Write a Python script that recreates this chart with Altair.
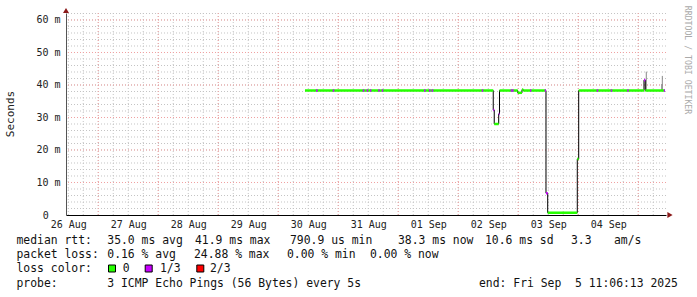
import altair as alt
import pandas as pd

# ---------------- data ----------------
# median rtt (ms) as a step function: start of each step, value, loss bucket
seg_start = ["2025-08-30T10:42:00", "2025-09-02T14:00:00", "2025-09-02T14:24:00", "2025-09-02T16:11:00",
             "2025-09-02T16:30:00", "2025-09-02T23:48:00", "2025-09-03T01:30:00", "2025-09-03T02:00:00",
             "2025-09-03T11:06:00", "2025-09-03T11:47:00", "2025-09-03T23:37:00", "2025-09-04T00:11:00",
             "2025-09-05T02:18:00", "2025-09-05T02:49:00"]
seg_value = [38.3, 32.3, 28.0, 31.1, 38.3, 37.6, 38.6, 38.3, 6.7, 0.7, 17.2, 38.3, 41.5, 38.3]
seg_loss = ["0", "1/3", "0", "1/3", "0", "0", "0", "0", "1/3", "0", "0", "0", "1/3", "0"]
line_end = "2025-09-05T10:42:00"

# short periods with 1/3 packet loss on the flat part
spot_start = ["2025-08-30T15:06:00", "2025-08-30T21:48:00", "2025-08-31T09:48:00", "2025-08-31T11:24:00",
              "2025-08-31T12:42:00", "2025-08-31T16:00:00", "2025-08-31T17:24:00", "2025-09-01T10:18:00",
              "2025-09-01T12:18:00", "2025-09-01T13:24:00", "2025-09-02T09:24:00", "2025-09-02T21:00:00",
              "2025-09-02T21:36:00", "2025-09-03T04:42:00", "2025-09-03T10:36:00", "2025-09-04T07:24:00",
              "2025-09-04T13:00:00", "2025-09-04T19:36:00", "2025-09-05T10:12:00"]
spot_end = ["2025-08-30T15:45:00", "2025-08-30T22:25:00", "2025-08-31T10:25:00", "2025-08-31T12:00:00",
            "2025-08-31T13:15:00", "2025-08-31T16:35:00", "2025-08-31T18:00:00", "2025-09-01T10:55:00",
            "2025-09-01T12:55:00", "2025-09-01T14:00:00", "2025-09-02T10:00:00", "2025-09-02T21:35:00",
            "2025-09-02T22:10:00", "2025-09-03T05:15:00", "2025-09-03T11:06:00", "2025-09-04T08:00:00",
            "2025-09-04T13:35:00", "2025-09-04T20:10:00", "2025-09-05T10:42:00"]
spot_value = [38.3] * 19

# smoke (ping spread) spikes
smoke_time = ["2025-09-05T03:13:00", "2025-09-05T09:24:00", "2025-09-05T09:38:00"]
smoke_low = [38.3, 38.3, 38.3]
smoke_high = [44.1, 40.3, 42.8]

loss_labels = ["0", "1/3", "2/3"]
loss_colors = ["#26ff00", "#c800ff", "#ff0000"]

y_ticks = [0, 10, 20, 30, 40, 50, 60]
label_days = [(8, 26), (8, 27), (8, 28), (8, 29), (8, 30), (8, 31), (9, 1), (9, 2), (9, 3), (9, 4)]

stats_line1 = ["median rtt:", "35.0 ms avg", "41.9 ms max", "790.9 us min", "38.3 ms now", "10.6 ms sd", "3.3", "am/s"]
stats_line2 = ["packet loss:", "0.16 % avg", "24.88 % max", "0.00 % min", "0.00 % now"]
stats_line3 = ["loss color:"]
stats_line4 = ["probe:", "3 ICMP Echo Pings (56 Bytes) every 5s", "end: Fri Sep  5 11:06:13 2025"]

# ---------------- layout (pixels) ----------------
W, H = 600, 202
PAD_L, PAD_T = 66, 13
line1_x = [16.5, 107.3, 195, 290, 398, 485, 571, 614]
line2_x = [16.5, 107.3, 194, 287, 370]
line3_x = [16.5]
line4_x = [16.5, 107.3, 479]
line_y = [241.3, 255.3, 269.3, 283.5]
box_x = [112, 148.7, 200.3]
box_label_x = [122.7, 160, 210]
zero_label_x = 45.7

MONO = "DejaVu Sans Mono"
FOOT = 11.4

NB = "\u00a0"

# ---------------- scales & axes ----------------
xscale = alt.Scale(domain=[alt.DateTime(year=2025, month=8, date=26, hours=11, minutes=6, seconds=13),
                           alt.DateTime(year=2025, month=9, date=5, hours=11, minutes=6, seconds=13)])
yscale = alt.Scale(domain=[0, 62.15], nice=False, zero=True)

xaxis = alt.Axis(values=[alt.DateTime(year=2025, month=m, date=d, hours=12) for m, d in label_days],
                 format="%d %b", grid=False, ticks=False, tickSize=0, labelPadding=4,
                 labelFlush=False, labelOverlap=False, domainColor="#000000", domainWidth=1,
                 labelFont=MONO, labelFontSize=10, labelColor="#222222", title=None, zindex=1)
# the "0" label is drawn separately (rrdtool places it inside the label column)
yaxis = alt.Axis(values=y_ticks[1:],
                 labelExpr="datum.value + ' m'",
                 grid=False, ticks=False, tickSize=0, labelPadding=6, domainColor="#555555",
                 labelFont=MONO, labelFontSize=10, labelColor="#222222", title=None, zindex=1)


def X(f):
    return alt.X(f, type="temporal", scale=xscale, axis=xaxis)


def Y(f):
    return alt.Y(f, type="quantitative", scale=yscale, axis=yaxis)


# ---------------- grid ----------------
minor_v = pd.DataFrame({"t": pd.date_range("2025-08-26 12:00", "2025-09-05 06:00", freq="6h").strftime("%Y-%m-%dT%H:%M:%S")})
major_v = pd.DataFrame({"t": pd.date_range("2025-08-27 00:00", "2025-09-05 00:00", freq="1D").strftime("%Y-%m-%dT%H:%M:%S")})
minor_h = pd.DataFrame({"v": list(range(2, 63, 2))})
major_h = pd.DataFrame({"v": list(range(10, 61, 10))})

g_minor_v = alt.Chart(minor_v).mark_rule(color="#c4c4c4", strokeWidth=1, strokeDash=[1, 2]).encode(x=X("t"))
g_minor_h = alt.Chart(minor_h).mark_rule(color="#c4c4c4", strokeWidth=1, strokeDash=[1, 2]).encode(y=Y("v"))
g_major_v = alt.Chart(major_v).mark_rule(color="#f0a0a0", strokeWidth=1, strokeDash=[1, 2]).encode(x=X("t"))
g_major_h = alt.Chart(major_h).mark_rule(color="#f0a0a0", strokeWidth=1, strokeDash=[1, 2]).encode(y=Y("v"))

# ---------------- data layers ----------------
line_df = pd.DataFrame({"t": seg_start + [line_end], "v": seg_value + [seg_value[-1]]})
seg_df = pd.DataFrame({"t": seg_start, "t2": seg_start[1:] + [line_end], "v": seg_value, "loss": seg_loss})
spot_df = pd.DataFrame({"t": spot_start, "t2": spot_end, "v": spot_value, "loss": ["1/3"] * len(spot_start)})
smoke_df = pd.DataFrame({"t": smoke_time, "lo": smoke_low, "hi": smoke_high})

loss_scale = alt.Scale(domain=loss_labels, range=loss_colors)

smoke = alt.Chart(smoke_df).mark_rule(color="#888888", strokeWidth=1).encode(
    x=X("t"), y=Y("lo"), y2=alt.Y2("hi"))
median_line = alt.Chart(line_df).mark_line(interpolate="step-after", color="#000000", strokeWidth=1).encode(
    x=X("t"), y=Y("v"))
segs = alt.Chart(seg_df).mark_rule(strokeWidth=2.5, strokeCap="butt").encode(
    x=X("t"), x2=alt.X2("t2"), y=Y("v"), color=alt.Color("loss:N", scale=loss_scale, legend=None))
spots = alt.Chart(spot_df).mark_rule(strokeWidth=2.5, strokeCap="butt").encode(
    x=X("t"), x2=alt.X2("t2"), y=Y("v"), color=alt.Color("loss:N", scale=loss_scale, legend=None))

one = pd.DataFrame({"a": [0]})
arrow_up = alt.Chart(one).mark_point(shape="triangle-up", filled=True, color="#8b1a1a", size=36, opacity=1).encode(
    x=alt.value(0), y=alt.value(-2.5))
arrow_right = alt.Chart(one).mark_point(shape="triangle-right", filled=True, color="#8b1a1a", size=36, opacity=1).encode(
    x=alt.value(W + 4), y=alt.value(H))


def text_layer(s, x_abs, y_abs, size=FOOT, color="#111111", angle=0, align="left"):
    df = pd.DataFrame({"s": [s.replace(" ", NB)]})
    return alt.Chart(df).mark_text(font=MONO, fontSize=size, color=color, align=align, baseline="middle",
                                   angle=angle).encode(
        x=alt.value(x_abs - PAD_L), y=alt.value(y_abs - PAD_T), text="s:N")


texts = []
for items, xs, y in [(stats_line1, line1_x, line_y[0]), (stats_line2, line2_x, line_y[1]),
                     (stats_line3, line3_x, line_y[2]), (stats_line4, line4_x, line_y[3])]:
    for s, x in zip(items, xs):
        texts.append(text_layer(s, x, y))
for lab, bx, lx, col in zip(loss_labels, box_x, box_label_x, loss_colors):
    texts.append(alt.Chart(one).mark_square(fill=col, stroke="#000000", strokeWidth=1, size=49, opacity=1).encode(
        x=alt.value(bx - PAD_L), y=alt.value(line_y[2] - 0.8 - PAD_T)))
    texts.append(text_layer(lab, lx, line_y[2]))

# "0" tick label of the y axis
texts.append(text_layer(str(y_ticks[0]), zero_label_x, 215.5, size=10, color="#222222", align="center"))
texts.append(text_layer("Seconds", 11, 114, size=11, color="#222222", angle=270, align="center"))
texts.append(text_layer("RRDTOOL / TOBI OETIKER", 687, 60, size=8.2, color="#aaaaaa", angle=90, align="center"))

chart = alt.layer(
    g_minor_v, g_minor_h, g_major_v, g_major_h, smoke, median_line, segs, spots, arrow_up, arrow_right, *texts
).properties(
    width=W, height=H,
    autosize=alt.AutoSizeParams(type="none"),
    padding={"left": PAD_L, "top": PAD_T, "right": 697 - PAD_L - W, "bottom": 297 - PAD_T - H},
    background="#ffffff",
).configure_view(stroke=None)

chart.save("out.html", embed_options={"renderer": "svg", "actions": False})
